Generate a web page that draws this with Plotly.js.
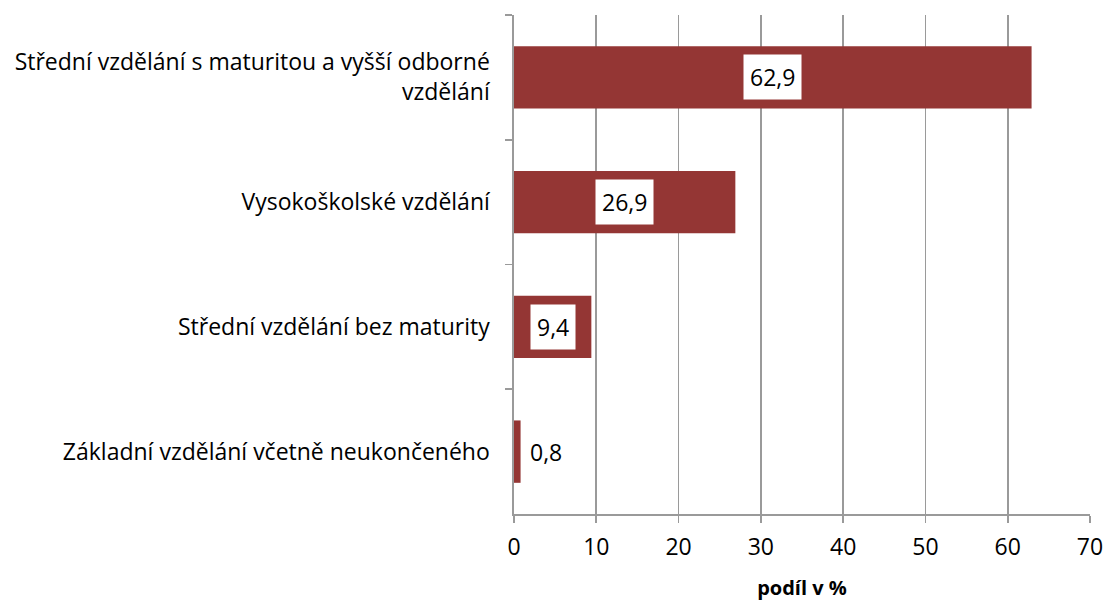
<!DOCTYPE html>
<html>
<head>
<meta charset="utf-8">
<script src="https://cdn.plot.ly/plotly-3.0.1.min.js"></script>
<style>html,body{margin:0;padding:0;background:#fff;}</style>
</head>
<body>
<div id="chart" style="width:1108px;height:601px;"></div>
<script>
const categories = [
  "Střední vzdělání s maturitou a vyšší odborné<br>vzdělání",
  "Vysokoškolské vzdělání",
  "Střední vzdělání bez maturity",
  "Základní vzdělání včetně neukončeného"
];
const values = [62.9, 26.9, 9.4, 0.8];
const valueLabels = ["62,9", "26,9", "9,4", "0,8"];
const xTitle = "podíl v %";

const FONT = "'Open Sans', sans-serif";

const annotations = values.map((v, i) => {
  const inside = v > 5;
  return {
    x: inside ? v / 2 : v,
    y: categories[i],
    xref: "x", yref: "y",
    text: valueLabels[i],
    showarrow: false,
    xanchor: inside ? "center" : "left",
    xshift: inside ? 0 : 2,
    bgcolor: "#ffffff",
    borderpad: 6,
    font: {family: FONT, size: 23, color: "#000"}
  };
});

Plotly.newPlot("chart", [{
  type: "bar",
  orientation: "h",
  x: values,
  y: categories,
  marker: {color: "#943634", line: {width: 0}},
  hoverinfo: "none"
}], {
  width: 1108, height: 601,
  margin: {l: 514, r: 18, t: 15, b: 87},
  paper_bgcolor: "#fff", plot_bgcolor: "#fff",
  bargap: 0.5,
  showlegend: false,
  font: {family: FONT, size: 23, color: "#000"},
  xaxis: {
    range: [0, 70],
    dtick: 10,
    showgrid: true, gridcolor: "#9a9a9a", gridwidth: 1.6,
    zeroline: false,
    showline: true, linecolor: "#9a9a9a", linewidth: 1.6,
    ticks: "outside", ticklen: 7, tickcolor: "#9a9a9a", tickwidth: 1.6,
    ticklabelstandoff: 5,
    tickfont: {family: FONT, size: 23, color: "#000"},
    title: {text: "<b>" + xTitle + "</b>", font: {family: FONT, size: 20, color: "#000"}, standoff: 28}
  },
  yaxis: {
    autorange: "reversed",
    type: "category",
    showgrid: false, zeroline: false,
    showline: true, linecolor: "#9a9a9a", linewidth: 1.6,
    ticks: "outside", ticklen: 7, tickcolor: "#9a9a9a", tickwidth: 1.6,
    tickson: "boundaries",
    ticklabelstandoff: 18,
    tickfont: {family: FONT, size: 23, color: "#000"}
  },
  annotations: annotations
}, {displayModeBar: false, staticPlot: true});
</script>
</body>
</html>
